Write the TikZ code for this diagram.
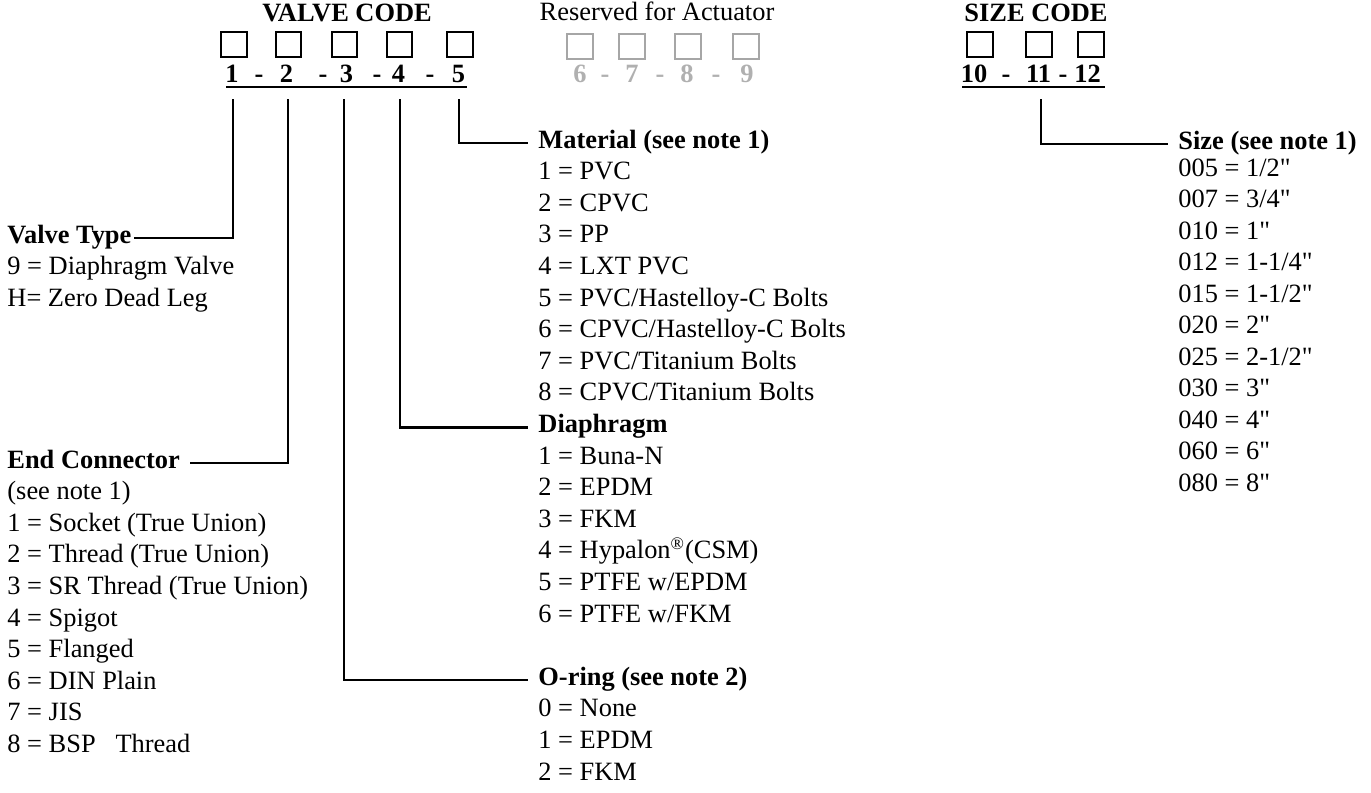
\documentclass[tikz,border=0pt]{standalone}
\usepackage{fontspec}
\setmainfont{Liberation Serif}[Ligatures=TeXOff]
\usepackage{xcolor}
\usepackage{tikz}

\definecolor{resgray}{HTML}{A6A6A6}
\definecolor{resdigit}{HTML}{B0B0B0}
\newcommand\codefont{\fontsize{12}{14.4}\selectfont}

\tikzset{
  codebox/.style={draw, line width=1pt, minimum width=11.6pt, minimum height=11.4pt, inner sep=0pt},
  digit/.style={font=\codefont\bfseries, anchor=base, inner sep=0pt},
  lbl/.style={font=\codefont, anchor=base west, inner sep=0pt, text height=0.7em, text depth=0.25em},
  head/.style={lbl, font=\codefont\bfseries},
  conn/.style={line width=1pt},
}

\begin{document}
\begin{tikzpicture}[x=0.4545pt, y=-0.4545pt]
  \useasboundingbox (0,0) rectangle (1371,792);

  % code headings
  \node[digit] (vcode) at (347,21) {VALVE CODE};
  \node[digit, font=\codefont] (resv) at (657,20) {Reserved for Actuator};
  \node[digit] (scode) at (1036,21) {SIZE CODE};

  % valve code boxes and digits
  \foreach \x [count=\i] in {234,288.5,344.5,399.5,460}
    \node[codebox] (vb\i) at (\x,44.5) {};
  \foreach \x/\d in {232/1,286.5/2,346.5/3,398.5/4,458.5/5}
    \node[digit] (vd\d) at (\x,82) {\d};
  \foreach \x [count=\i] in {259,323,377,430}
    \node[digit] (vdash\i) at (\x,82) {-};
  \draw[line width=0.9pt] (226,87) -- (467,87);

  % reserved for actuator (grey)
  \foreach \x [count=\i] in {580,632,688,746}
    \node[codebox, draw=resgray] (rb\i) at (\x,46.5) {};
  \foreach \x/\d in {580/6,632/7,687/8,747/9}
    \node[digit, text=resdigit] (rd\d) at (\x,82) {\d};
  \foreach \x [count=\i] in {605,660,716}
    \node[digit, text=resdigit] (rdash\i) at (\x,82) {-};

  % size code boxes and digits
  \foreach \x [count=\i] in {980,1039,1091}
    \node[codebox] (sb\i) at (\x,44.5) {};
  \node[digit] (sd10) at (974,82) {10};
  \node[digit] (sdash1) at (1006,82) {-};
  \node[digit] (sd11) at (1038.5,82) {11};
  \node[digit] (sdash2) at (1063,82) {-};
  \node[digit] (sd12) at (1087.5,82) {12};
  \draw[line width=0.9pt] (962,87) -- (1105,87);

  % tick tops
  \coordinate (t1) at (233,99);
  \coordinate (t2) at (288,99);
  \coordinate (t3) at (344,99);
  \coordinate (t4) at (400,99);
  \coordinate (t5) at (459,99);
  \coordinate (t6) at (1041,99);

  % valve type
  \node[head] (vtype) at (7,243) {Valve Type};
  \foreach \txt [count=\i] in {9 = Diaphragm Valve, H= Zero Dead Leg}
    \node[lbl] (vtype-\i) at (7,{243+\i*31.6}) {\txt};

  % end connector
  \node[head] (econ) at (7,468) {End Connector};
  \foreach \txt [count=\i] in {(see note 1), 1 = Socket (True Union), 2 = Thread (True Union),
      3 = SR Thread (True Union), 4 = Spigot, 5 = Flanged, 6 = DIN Plain, 7 = JIS,
      8 = BSP\ \ \ Thread}
    \node[lbl] (econ-\i) at (7,{468+\i*31.6}) {\txt};

  % material
  \node[head] (mater) at (538,148) {Material (see note 1)};
  \foreach \txt [count=\i] in {1 = PVC, 2 = CPVC, 3 = PP, 4 = LXT PVC,
      5 = PVC/Hastelloy-C Bolts, 6 = CPVC/Hastelloy-C Bolts,
      7 = PVC/Titanium Bolts, 8 = CPVC/Titanium Bolts}
    \node[lbl] (mater-\i) at (538,{148+\i*31.6}) {\txt};

  % diaphragm
  \node[head] (diaph) at (538,432.4) {Diaphragm};
  \foreach \txt [count=\i] in {1 = Buna-N, 2 = EPDM, 3 = FKM,
      4 = Hypalon\textsuperscript{®}(CSM), 5 = PTFE w/EPDM, 6 = PTFE w/FKM}
    \node[lbl] (diaph-\i) at (538,{432.4+\i*31.6}) {\txt};

  % o-ring
  \node[head] (oring) at (538,685.2) {O-ring (see note 2)};
  \foreach \txt [count=\i] in {0 = None, 1 = EPDM, 2 = FKM}
    \node[lbl] (oring-\i) at (538,{685.2+\i*31.6}) {\txt};

  % size
  \node[head] (sizeh) at (1178,149) {Size (see note 1)};
  \foreach \txt [count=\i] in {005 = 1/2", 007 = 3/4", 010 = 1", 012 = 1-1/4",
      015 = 1-1/2", 020 = 2", 025 = 2-1/2", 030 = 3", 040 = 4", 060 = 6", 080 = 8"}
    \node[lbl] (sizeh-\i) at (1178,{144.5+\i*31.5}) {\txt};

  % connectors
  \draw[conn] (t1) |- ([xshift=1pt]vtype.east);
  \draw[conn] (t2) |- ([xshift=4.5pt]econ.east);
  \draw[conn] (t3) |- ([xshift=-4.5pt]oring.west);
  \draw[conn] (t4) |- ([xshift=-4.5pt]diaph.west);
  \draw[conn] (t5) |- ([xshift=-4.5pt]mater.west);
  \draw[conn] (t6) |- ([xshift=-4.5pt]sizeh.west);
\end{tikzpicture}
\end{document}
